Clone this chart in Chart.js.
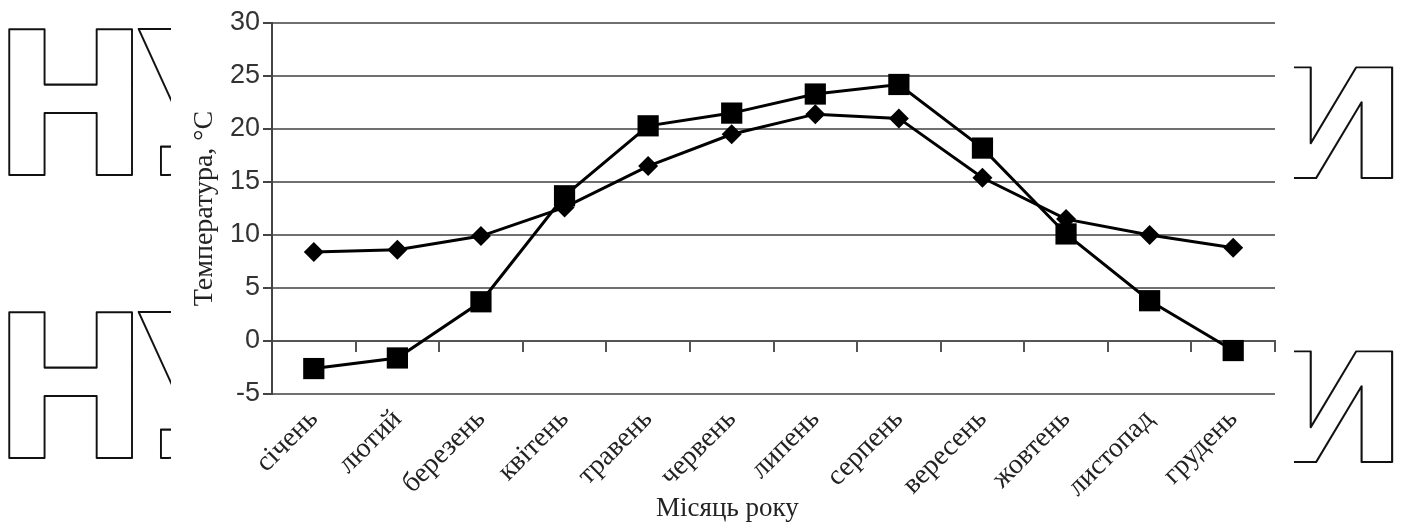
<!DOCTYPE html>
<html lang="uk">
<head>
<meta charset="utf-8">
<title>Температура по місяцях</title>
<script src="https://cdn.jsdelivr.net/npm/chart.js@4.4.1/dist/chart.umd.min.js"></script>
<style>
  html, body { margin: 0; padding: 0; background: #ffffff; }
  #wrap { width: 1402px; height: 528px; position: relative; }
  canvas { display: block; }
</style>
</head>
<body>
<div id="wrap"><canvas id="chart" width="1402" height="528"></canvas></div>
<script>
// Months of the year (category axis)
const months = ['січень', 'лютий', 'березень', 'квітень', 'травень', 'червень',
                'липень', 'серпень', 'вересень', 'жовтень', 'листопад', 'грудень'];

// Mean monthly temperature, °C — series drawn with square markers
const tempSquares = [-2.6, -1.6, 3.7, 13.7, 20.3, 21.5, 23.3, 24.2, 18.2, 10.1, 3.8, -0.9];

// Mean monthly temperature, °C — series drawn with diamond markers
const tempDiamonds = [8.4, 8.6, 9.9, 12.6, 16.5, 19.5, 21.4, 21.0, 15.4, 11.5, 10.0, 8.8];

// Value axis range and step
const yMin = -5;
const yMax = 30;
const yStep = 5;

const yTitle = 'Температура, °С';
const xTitle = 'Місяць року';

const SERIF = '"Liberation Serif", "Times New Roman", serif';
const SANS = '"Liberation Sans", Arial, sans-serif';

// Large outlined letters at the page edges
const GLYPH_FONT = 'bold 200px "DejaVu Sans"';

function glyphMetrics(ctx, ch) {
  ctx.font = GLYPH_FONT;
  const m = ctx.measureText(ch);
  return {
    left: m.actualBoundingBoxLeft,
    ascent: m.actualBoundingBoxAscent,
    w: m.actualBoundingBoxLeft + m.actualBoundingBoxRight,
    h: m.actualBoundingBoxAscent + m.actualBoundingBoxDescent
  };
}

function strokeGlyph(ctx, ch, x, y, sx, sy, clip) {
  const m = glyphMetrics(ctx, ch);
  ctx.save();
  if (clip) {
    ctx.beginPath();
    ctx.rect(clip.x, clip.y, clip.w, clip.h);
    ctx.clip();
  }
  ctx.translate(x, y);
  ctx.scale(sx, sy);
  ctx.font = GLYPH_FONT;
  ctx.textAlign = 'left';
  ctx.textBaseline = 'alphabetic';
  ctx.lineWidth = 2 / Math.sqrt(sx * sy);
  ctx.lineJoin = 'round';
  ctx.strokeStyle = '#111111';
  ctx.strokeText(ch, m.left, m.ascent);
  ctx.restore();
}

const outlinedLetters = {
  id: 'outlinedLetters',
  afterDraw(chart) {
    const ctx = chart.ctx;
    const mH = glyphMetrics(ctx, 'Н');
    const sxL = 124 / mH.w, syL = 146 / mH.h;
    const mI = glyphMetrics(ctx, 'И');
    const sxR = 113 / mI.w, syR = 111 / mI.h;
    [29, 312].forEach(top => {
      strokeGlyph(ctx, 'Н', 9, top, sxL, syL);
      strokeGlyph(ctx, 'У', 138, top, sxL, syL, {x: 134, y: top - 5, w: 37, h: 160});
    });
    [67, 351].forEach(top => {
      strokeGlyph(ctx, 'И', 1280, top, sxR, syR, {x: 1294, y: top - 5, w: 110, h: 125});
    });
  }
};

// Horizontal axis title, set a little left of the plot centre
const xAxisTitle = {
  id: 'xAxisTitle',
  afterDraw(chart) {
    const ctx = chart.ctx;
    const area = chart.chartArea;
    ctx.save();
    ctx.font = '27px ' + SERIF;
    ctx.fillStyle = '#222222';
    ctx.textAlign = 'center';
    ctx.textBaseline = 'middle';
    const cx = area.left + (area.right - area.left) * 0.454;
    ctx.fillText(xTitle, cx, chart.height - 19);
    ctx.restore();
  }
};

const lineColor = '#000000';

new Chart(document.getElementById('chart'), {
  type: 'line',
  data: {
    labels: months,
    datasets: [
      {
        label: 'Ряд 1',
        data: tempSquares,
        borderColor: lineColor,
        backgroundColor: lineColor,
        borderWidth: 3,
        pointStyle: 'rect',
        pointRadius: 15,
        pointBorderWidth: 0,
        pointBackgroundColor: lineColor,
        tension: 0
      },
      {
        label: 'Ряд 2',
        data: tempDiamonds,
        borderColor: lineColor,
        backgroundColor: lineColor,
        borderWidth: 3,
        pointStyle: 'rectRot',
        pointRadius: 10,
        pointBorderWidth: 0,
        pointBackgroundColor: lineColor,
        tension: 0
      }
    ]
  },
  options: {
    responsive: false,
    animation: false,
    devicePixelRatio: 1,
    layout: { padding: { left: 185, right: 127, top: 23, bottom: 0 } },
    plugins: {
      legend: { display: false },
      tooltip: { enabled: false }
    },
    scales: {
      x: {
        type: 'category',
        position: 'bottom',
        offset: true,
        grid: { display: false },
        border: { display: false },
        ticks: {
          autoSkip: false,
          maxRotation: 45,
          minRotation: 45,
          padding: 1,
          color: '#222222',
          font: { family: SERIF, size: 28 }
        },
        title: { display: false },
        afterFit(scale) { scale.height = 134; }
      },
      // Horizontal axis line crossing at zero, with tick marks between months
      x2: {
        type: 'category',
        position: { y: 0 },
        offset: true,
        ticks: { display: false },
        grid: {
          display: true,
          offset: true,
          drawOnChartArea: false,
          drawTicks: true,
          tickLength: 10,
          color: '#555555',
          lineWidth: 2
        },
        border: { display: true, color: '#555555', width: 2 }
      },
      y: {
        min: yMin,
        max: yMax,
        ticks: {
          stepSize: yStep,
          padding: 3,
          color: '#333333',
          font: { family: SANS, size: 27 }
        },
        grid: {
          color: '#707070',
          lineWidth: 2,
          drawTicks: true,
          tickLength: 9,
          tickColor: '#444444'
        },
        border: { display: true, color: '#444444', width: 2 },
        title: {
          display: true,
          text: yTitle,
          color: '#222222',
          padding: { top: 3, bottom: 0 },
          font: { family: SERIF, size: 28 }
        },
        afterFit(scale) { scale.width = 87; }
      }
    }
  },
  plugins: [outlinedLetters, xAxisTitle]
});
</script>
</body>
</html>
